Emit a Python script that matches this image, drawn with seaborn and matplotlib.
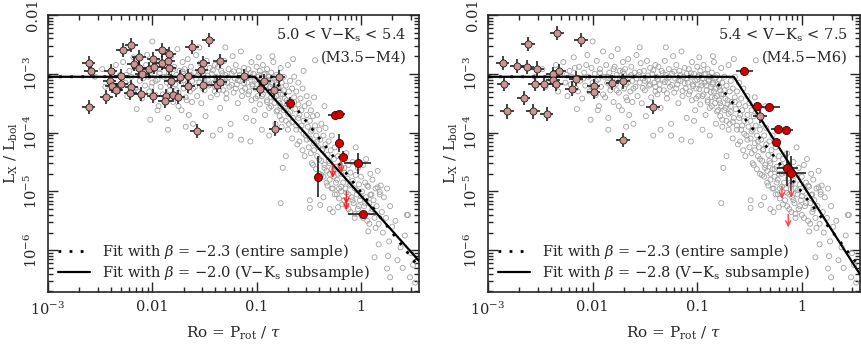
import matplotlib
matplotlib.use("Agg")
import matplotlib.pyplot as plt
import seaborn as sns
import numpy as np

# background sample (same in both panels), log10 Ro / log10 Lx/Lbol
grey_logro = [
    -2.55, -2.48, -2.45, -2.40, -2.35, -2.33, -2.31,
    -2.28, -2.26, -2.24, -2.22, -2.20, -2.18, -2.16, -2.15, -2.13, -2.12, -2.10, -2.08, -2.07, -2.05, -2.04, -2.03, -2.02, -2.01, -2.00, -2.00,
    -1.98, -1.97, -1.96, -1.95, -1.94, -1.93, -1.92, -1.90, -1.89, -1.88, -1.87, -1.86, -1.85, -1.84, -1.83, -1.82, -1.81, -1.80, -1.79, -1.78, -1.77, -1.76, -1.75, -1.74, -1.73, -1.72, -1.71, -1.70, -1.70,
    -1.69, -1.68, -1.67, -1.66, -1.65, -1.64, -1.63, -1.62, -1.61, -1.60, -1.59, -1.58, -1.57, -1.56, -1.55, -1.54, -1.53, -1.52, -1.51, -1.50, -1.49, -1.48, -1.47, -1.46, -1.45, -1.44, -1.43, -1.42, -1.41, -1.40, -1.40, -1.55, -1.65,
    -1.39, -1.38, -1.37, -1.36, -1.35, -1.34, -1.33, -1.32, -1.31, -1.30, -1.29, -1.28, -1.27, -1.26, -1.25, -1.24, -1.23, -1.22, -1.21, -1.20, -1.19, -1.18, -1.17, -1.16, -1.15, -1.14, -1.13, -1.12, -1.11, -1.10, -1.10, -1.35, -1.25, -1.15, -1.30,
    -1.09, -1.08, -1.07, -1.06, -1.05, -1.05, -1.04, -1.03, -1.02, -1.01, -1.00, -1.00, -0.99, -0.98, -0.97, -0.97, -0.96, -0.95, -0.94, -0.94, -0.93, -0.92, -0.92, -0.91, -0.90, -0.90, -0.89, -0.88, -0.88, -0.87, -0.86, -0.86, -0.85, -0.84, -0.84, -0.83, -0.83, -0.82, -0.82, -0.81, -0.81, -0.80, -0.80, -1.03, -0.95, -0.88, -0.85, -0.98, -1.06,
    -0.79, -0.79, -0.78, -0.78, -0.77, -0.77, -0.76, -0.76, -0.75, -0.75, -0.74, -0.74, -0.73, -0.72, -0.72, -0.71, -0.70, -0.70, -0.69, -0.68, -0.68, -0.67, -0.66, -0.66, -0.65, -0.64, -0.64, -0.63, -0.62, -0.62, -0.61, -0.60, -0.60, -0.59, -0.58, -0.58, -0.57, -0.56, -0.56, -0.55, -0.54, -0.53, -0.52, -0.52, -0.51, -0.50, -0.77, -0.72, -0.65, -0.55,
    -0.49, -0.49, -0.48, -0.48, -0.47, -0.46, -0.46, -0.45, -0.44, -0.44, -0.43, -0.42, -0.42, -0.41, -0.40, -0.40, -0.39, -0.38, -0.38, -0.37, -0.36, -0.36, -0.35, -0.34, -0.34, -0.33, -0.32, -0.32, -0.31, -0.30, -0.30, -0.29, -0.28, -0.28, -0.27, -0.26, -0.26, -0.25, -0.24, -0.24, -0.23, -0.22, -0.22, -0.21, -0.20, -0.45, -0.35, -0.30, -0.27, -0.36, -0.49, -0.49, -0.39, -0.22,
    -0.19, -0.19, -0.18, -0.17, -0.16, -0.16, -0.15, -0.14, -0.14, -0.13, -0.12, -0.12, -0.11, -0.10, -0.10, -0.09, -0.08, -0.08, -0.07, -0.06, -0.06, -0.05, -0.04, -0.03, -0.03, -0.02, -0.01, 0.00, 0.00, 0.01, 0.02, 0.03, 0.04, 0.05, 0.06, 0.07, 0.08, 0.09, 0.10, 0.10, -0.05, 0.05,
    0.11, 0.12, 0.13, 0.14, 0.15, 0.16, 0.17, 0.18, 0.19, 0.20, 0.21, 0.22, 0.24, 0.25, 0.27, 0.28, 0.30, 0.17, 0.26, 0.16, 0.18, 0.09, 0.07,
    0.33, 0.35, 0.38, 0.40, 0.42, 0.44, 0.45, 0.47, 0.50, 0.52, 0.48, 0.28, 0.25, 0.13,
    -1.58, -1.55, -1.52, -1.50, -1.47, -1.45, -1.42, -1.40, -1.38, -1.36, -1.33, -1.31, -1.29, -1.27, -1.24, -1.22, -1.20, -1.18, -1.16, -1.14, -1.12, -1.10, -1.08, -1.06, -1.04,
    -1.02, -1.01, -0.99, -0.98, -0.96, -0.95, -0.93, -0.91, -0.90, -0.89, -0.87, -0.86, -0.85, -0.83, -0.82, -0.81, -0.79, -0.78, -0.77, -0.76, -0.74, -0.73, -0.71, -0.70, -0.69,
    -0.68, -0.66, -0.64, -0.62, -0.60, -0.59, -0.57, -0.55, -0.54, -0.52, -0.50, -0.48, -0.47, -0.45, -0.43, -0.42, -0.40, -0.38, -0.37, -0.35, -0.33, -0.31, -0.30,
    -0.28, -0.26, -0.25, -0.23, -0.21, -0.19, -0.18, -0.16, -0.14, -0.12, -0.10, -0.08, -0.06, -0.04, -0.02, 0.00, 0.02, 0.04, 0.06, 0.08, 0.11, 0.14,
    -2.25, -2.21, -2.17, -2.14, -2.09, -2.06, -2.01, -1.97, -1.93, -1.90, -1.86, -1.83, -1.80, -1.77, -1.74, -1.71, -1.68, -1.66, -1.63, -1.61, -1.95, -1.85, -1.75, -1.68, -1.62,
]
grey_loglx = [
    -3.05, -2.92, -3.22, -3.10, -2.85, -3.30, -3.02,
    -2.80, -3.15, -3.38, -2.95, -3.05, -2.72, -3.25, -3.60, -2.88, -3.12, -3.42, -2.98, -3.20, -2.68, -3.05, -3.30, -3.78, -2.90, -2.45, -3.15,
    -3.00, -3.36, -2.78, -3.10, -3.55, -2.92, -3.22, -2.62, -3.05, -3.40, -2.85, -3.15, -3.95, -2.98, -3.28, -2.70, -3.08, -3.48, -2.88, -3.18, -3.02, -2.58, -3.32, -2.95, -3.12, -3.62, -2.80, -3.25, -3.00,
    -2.92, -3.18, -3.45, -2.75, -3.05, -3.30, -2.88, -3.12, -3.85, -2.98, -3.22, -2.68, -3.38, -3.02, -3.15, -2.82, -3.50, -3.08, -2.95, -3.28, -3.72, -2.78, -3.10, -3.20, -2.90, -3.40, -3.00, -4.05, -3.15, -2.85, -3.30, -2.55, -3.70,
    -3.05, -3.35, -2.88, -3.18, -3.58, -2.95, -3.10, -3.28, -2.78, -3.02, -3.42, -3.15, -2.92, -3.22, -3.85, -3.00, -2.70, -3.32, -3.08, -2.85, -3.18, -3.50, -2.95, -3.12, -2.62, -3.38, -3.05, -2.90, -3.25, -3.75, -3.00, -3.95, -4.05, -4.12, -2.55,
    -3.15, -2.92, -3.30, -3.05, -2.80, -3.45, -3.18, -3.00, -3.62, -3.25, -2.88, -3.10, -3.38, -3.02, -2.95, -3.52, -3.20, -3.08, -2.85, -3.35, -3.15, -3.70, -3.00, -3.28, -2.92, -3.45, -3.12, -3.05, -3.58, -3.22, -2.98, -3.40, -3.15, -3.30, -2.80, -3.50, -3.08, -3.25, -3.85, -3.02, -3.38, -3.18, -3.62, -3.80, -3.95, -4.05, -2.70, -2.72, -4.15,
    -3.10, -3.45, -3.28, -3.72, -2.90, -3.55, -3.15, -3.90, -3.35, -4.60, -3.05, -3.62, -3.42, -3.20, -3.80, -3.52, -2.85, -3.95, -3.30, -3.65, -3.12, -3.48, -4.10, -3.25, -3.75, -3.40, -3.05, -3.60, -3.88, -3.30, -4.20, -3.52, -3.15, -3.70, -3.95, -3.42, -3.62, -4.30, -3.25, -3.80, -3.55, -4.05, -3.38, -3.70, -3.90, -3.50, -5.20, -4.40, -2.75, -2.95,
    -3.80, -4.10, -3.62, -4.35, -3.95, -3.72, -4.55, -4.18, -3.88, -2.77, -4.05, -4.40, -3.70, -4.25, -3.95, -4.70, -4.12, -4.48, -3.85, -4.30, -4.05, -4.75, -4.55, -4.20, -3.92, -4.65, -4.38, -4.90, -4.15, -4.52, -4.80, -4.30, -4.62, -4.05, -4.95, -4.45, -4.75, -4.25, -4.85, -4.58, -5.05, -4.40, -4.70, -4.95, -4.55, -3.40, -3.55, -5.30, -5.35, -5.10, -5.15, -5.28, -5.23, -5.27,
    -4.70, -5.00, -4.45, -4.85, -5.15, -4.60, -4.95, -4.35, -5.25, -4.78, -5.05, -4.55, -4.90, -5.35, -4.68, -5.10, -4.82, -4.50, -5.20, -4.95, -5.45, -4.72, -5.05, -4.60, -5.30, -4.88, -5.15, -4.75, -5.40, -5.00, -4.55, -5.25, -4.85, -5.10, -5.50, -4.92, -5.20, -4.70, -5.35, -5.05, -4.25, -4.45,
    -4.80, -5.15, -5.45, -4.95, -5.25, -4.65, -5.55, -5.05, -4.90, -5.35, -5.70, -5.10, -5.45, -4.95, -5.85, -5.25, -5.60, -5.90, -6.10, -4.93, -5.01, -5.06, -5.68,
    -5.50, -6.17, -5.95, -6.30, -5.75, -5.40, -5.40, -6.46, -6.25, -6.55, -6.05, -6.46, -6.31, -6.12,
    -3.08, -2.97, -3.24, -3.12, -3.03, -3.18, -2.94, -3.22, -3.09, -3.27, -2.99, -3.14, -3.33, -3.06, -3.19, -2.96, -3.25, -3.11, -3.02, -3.29, -3.16, -3.08, -3.35, -2.99, -3.21,
    -3.12, -3.42, -3.05, -3.26, -3.15, -3.38, -3.01, -3.20, -3.48, -3.10, -3.31, -3.55, -3.18, -3.41, -3.06, -3.64, -3.22, -3.50, -3.35, -3.78, -3.28, -3.58, -3.45, -3.68, -3.85,
    -3.55, -3.82, -3.48, -3.95, -3.75, -4.15, -3.88, -4.02, -4.40, -4.12, -4.25, -3.98, -4.52, -4.30, -4.62, -4.15, -4.45, -4.72, -4.28, -4.60, -4.85, -4.48, -4.70,
    -4.95, -4.62, -5.05, -4.80, -5.12, -4.92, -5.22, -4.68, -5.02, -5.30, -4.88, -5.15, -5.38, -4.98, -5.25, -5.08, -5.45, -5.20, -4.90, -5.55, -5.30, -5.62,
    -3.02, -3.18, -2.90, -3.30, -3.08, -2.85, -3.22, -3.12, -2.98, -3.35, -3.05, -3.20, -2.92, -3.28, -3.10, -2.96, -3.40, -3.15, -3.02, -3.25, -3.62, -3.75, -3.55, -3.90, -3.48,
]

# subsample stars with measured values (pink) and new detections (red)
left_pink_logro = [-2.61, -2.59, -2.61, -2.20, -2.28, -2.13, -2.18, -2.13, -2.10, -2.03, -1.99, -1.98, -1.91, -1.84, -1.91, -1.85, -1.84,
                   -1.62, -1.46, -1.51, -1.35, -1.53, -2.40, -2.30, -2.41, -2.39, -2.35, -2.30, -2.20, -2.21, -2.11, -2.44, -1.99, -1.87,
                   -1.88, -1.80, -1.75, -1.82, -1.73, -1.66, -1.66, -1.51, -1.38, -1.35, -1.12, -1.57, -0.93, -0.79, -0.97, -0.83, -0.82]
left_pink_loglx = [-2.81, -2.95, -3.57, -2.51, -2.59, -2.71, -2.83, -2.90, -3.00, -2.92, -2.75, -2.88, -2.60, -2.66, -2.82, -2.79, -2.90,
                   -2.55, -2.43, -2.81, -2.78, -2.94, -2.95, -3.04, -3.13, -3.21, -3.27, -3.17, -3.22, -3.32, -3.35, -3.40, -3.38, -3.38,
                   -3.46, -3.36, -3.40, -3.12, -3.06, -3.03, -3.20, -3.19, -3.19, -3.14, -3.03, -3.97, -3.12, -3.05, -3.26, -3.28, -3.93]
left_red_logro = [-0.68, -0.25, -0.21, -0.21, -0.17, -0.03, -0.41, 0.02]
left_red_loglx = [-3.49, -3.70, -3.68, -4.18, -4.41, -4.52, -4.75, -5.39]
left_red_xerr = [0.05, 0.07, 0.06, 0.04, 0.05, 0.13, 0.03, 0.14]
left_red_yerr = [0.10, 0.03, 0.03, 0.15, 0.09, 0.18, 0.35, 0.04]
left_lim_logro = [-0.27, -0.19, -0.14, -0.14]
left_lim_loglx = [-4.55, -4.47, -5.00, -5.10]

right_pink_logro = [-2.86, -2.85, -2.82, -2.72, -2.62, -2.63, -2.66, -2.57, -2.53, -2.55, -2.46, -2.44, -2.34, -2.38,
                    -2.32, -2.38, -2.35, -2.20, -2.16, -2.11, -1.99, -1.99, -1.81, -1.71, -1.71, -1.42, -0.40]
right_pink_loglx = [-2.81, -3.17, -3.64, -2.86, -2.50, -2.89, -3.41, -3.64, -2.91, -3.18, -3.18, -3.69, -2.31, -3.01,
                    -2.95, -3.11, -3.18, -3.25, -3.08, -2.43, -3.21, -3.31, -3.15, -3.13, -4.12, -3.57, -3.72]
right_red_logro = [-0.55, -0.43, -0.31, -0.23, -0.15, -0.25, -0.14, -0.10]
right_red_loglx = [-2.95, -3.55, -3.56, -3.94, -3.95, -4.16, -4.61, -4.69]
right_red_xerr = [0.08, 0.04, 0.10, 0.06, 0.07, 0.03, 0.10, 0.14]
right_red_yerr = [0.03, 0.04, 0.03, 0.03, 0.03, 0.05, 0.30, 0.30]
right_lim_logro = [-0.19, -0.10, -0.13]
right_lim_loglx = [-4.91, -4.89, -5.39]

# fits: broken power law vertices (Ro, Lx/Lbol)
fit_all_ro = [1e-3, 0.14, 3.6]
fit_all_lx = [8.9e-4, 8.9e-4, 5.1e-7]
left_fit_ro = [1e-3, 0.096, 3.6]
left_fit_lx = [8.9e-4, 8.9e-4, 6.6e-7]
right_fit_ro = [1e-3, 0.224, 3.6]
right_fit_lx = [8.9e-4, 8.9e-4, 3.9e-7]

panels = [
    dict(pos=[48 / 862, 57 / 349, 371 / 862, 277 / 349], pink=(left_pink_logro, left_pink_loglx),
         red=(left_red_logro, left_red_loglx, left_red_xerr, left_red_yerr), lim=(left_lim_logro, left_lim_loglx),
         fit=(left_fit_ro, left_fit_lx), beta="\u22122.0", txt1="5.0 < V\u2212K$_{\\rm s}$ < 5.4", txt2="(M3.5\u2212M4)",
         limcol="#ff2020"),
    dict(pos=[488 / 862, 57 / 349, 372 / 862, 277 / 349], pink=(right_pink_logro, right_pink_loglx),
         red=(right_red_logro, right_red_loglx, right_red_xerr, right_red_yerr), lim=(right_lim_logro, right_lim_loglx),
         fit=(right_fit_ro, right_fit_lx), beta="\u22122.8", txt1="5.4 < V\u2212K$_{\\rm s}$ < 7.5", txt2="(M4.5\u2212M6)",
         limcol="#ff4040"),
]

sns.set_style("ticks")
plt.rcParams["font.family"] = ["DejaVu Serif"]
plt.rcParams["mathtext.fontset"] = "dejavuserif"

fig = plt.figure(figsize=(8.62, 3.49), dpi=100)

gx = np.power(10.0, grey_logro)
gy = np.power(10.0, grey_loglx)

for p in panels:
    ax = fig.add_axes(p["pos"])
    ax.set_xscale("log")
    ax.set_yscale("log")

    sns.scatterplot(x=gx, y=gy, ax=ax, s=13, facecolor="none", edgecolor="#a0a0a0", linewidth=0.6, zorder=1)

    ax.plot(fit_all_ro, fit_all_lx, color="black", lw=2.0, linestyle=(0, (1, 3)), zorder=2,
            label="Fit with $\\beta$ = \u22122.3 (entire sample)")
    ax.plot(p["fit"][0], p["fit"][1], color="black", lw=1.6, zorder=3,
            label="Fit with $\\beta$ = " + p["beta"] + " (V\u2212K$_{\\rm s}$ subsample)")

    px = np.power(10.0, p["pink"][0])
    py = np.power(10.0, p["pink"][1])
    ax.errorbar(px, py, xerr=[px - px * 10 ** -0.065, px * 10 ** 0.065 - px],
                yerr=[py - py * 10 ** -0.12, py * 10 ** 0.12 - py],
                fmt="none", ecolor="#111111", elinewidth=1.1, capsize=0, zorder=4)
    sns.scatterplot(x=px, y=py, ax=ax, s=26, color="#c99595", edgecolor="#2a1a1a", linewidth=0.6, zorder=5)

    rlx, rly, rex, rey = p["red"]
    rx = np.power(10.0, rlx)
    ry = np.power(10.0, rly)
    rex = np.array(rex)
    rey = np.array(rey)
    ax.errorbar(rx, ry, xerr=[rx - rx * 10 ** -rex, rx * 10 ** rex - rx],
                yerr=[ry - ry * 10 ** -rey, ry * 10 ** rey - ry],
                fmt="none", ecolor="#111111", elinewidth=1.1, capsize=0, zorder=4)
    sns.scatterplot(x=rx, y=ry, ax=ax, s=34, color="#d00000", edgecolor="#3a0000", linewidth=0.6, zorder=6)

    for lx, ly in zip(*p["lim"]):
        ax.annotate("", xy=(10 ** lx, 10 ** (ly - 0.22)), xytext=(10 ** lx, 10 ** ly),
                    arrowprops=dict(arrowstyle="->", color=p["limcol"], lw=1.0, shrinkA=0, shrinkB=0,
                                    mutation_scale=9), zorder=7)

    ax.set_xlim(1e-3, 3.6)
    ax.set_ylim(1.95e-7, 1e-2)
    ax.set_xticks([1e-3, 1e-2, 1e-1, 1], ["10$^{-3}$", "0.01", "0.1", "1"])
    ax.set_yticks([1e-2, 1e-3, 1e-4, 1e-5, 1e-6],
                  ["0.01", "10$^{-3}$", "10$^{-4}$", "10$^{-5}$", "10$^{-6}$"], rotation=90, va="center")
    ax.xaxis.set_minor_formatter(matplotlib.ticker.NullFormatter())
    ax.yaxis.set_minor_formatter(matplotlib.ticker.NullFormatter())
    ax.tick_params(which="both", direction="in", top=True, right=True, labelsize=10.5, width=1.0)
    ax.tick_params(which="major", length=7, pad=6)
    ax.tick_params(which="minor", length=3.5)
    for s in ax.spines.values():
        s.set_linewidth(1.2)

    ax.set_xlabel("Ro = P$_{\\rm rot}$ / $\\tau$", fontsize=11, labelpad=5)
    ax.set_ylabel("L$_{\\rm X}$ / L$_{\\rm bol}$", fontsize=11, labelpad=2)

    ax.text(0.967, 0.928, p["txt1"], transform=ax.transAxes, ha="right", va="center", fontsize=10.5)
    ax.text(0.967, 0.845, p["txt2"], transform=ax.transAxes, ha="right", va="center", fontsize=10.5)

    ax.legend(loc="lower left", bbox_to_anchor=(0.0, 0.0), frameon=False, fontsize=10.5,
              handlelength=2.2, handletextpad=0.8, labelspacing=0.12, borderaxespad=0.3)

fig.savefig("out.png", dpi=100)
